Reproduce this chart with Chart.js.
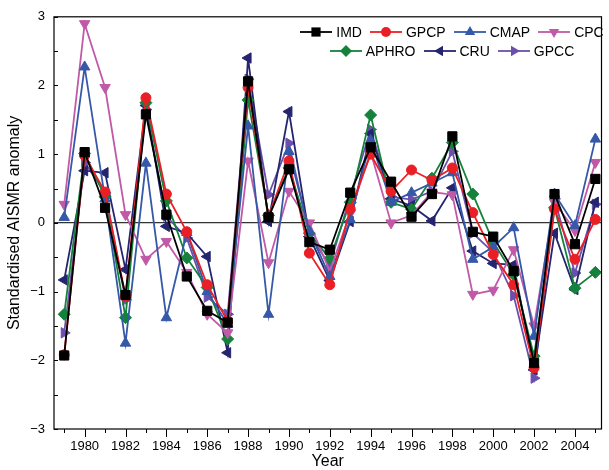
<!DOCTYPE html>
<html>
<head>
<meta charset="utf-8">
<script src="https://cdn.jsdelivr.net/npm/chart.js@4.4.1/dist/chart.umd.min.js"></script>
<style>
  html,body{margin:0;padding:0;background:#fff;}
  #wrap{position:relative;width:609px;height:470px;overflow:hidden;}
  #legend{position:absolute;left:277px;top:23px;width:350px;font-family:"Liberation Sans",Arial,sans-serif;font-size:14px;color:#000;}
  .row{display:flex;justify-content:center;height:18.5px;align-items:center;white-space:nowrap;}
  .item{display:flex;align-items:center;margin:0 4px;}
  .item svg{margin-right:4px;}
</style>
</head>
<body>
<div id="wrap">
<canvas id="c" width="609" height="470"></canvas>
<div id="legend"></div>
</div>
<script>
const years = [1979,1980,1981,1982,1983,1984,1985,1986,1987,1988,1989,1990,1991,1992,1993,1994,1995,1996,1997,1998,1999,2000,2001,2002,2003,2004,2005];
const IMD   = [-1.93,1.03,0.22,-1.05,1.58,0.12,-0.78,-1.28,-1.45,2.06,0.08,0.78,-0.28,-0.39,0.44,1.10,0.60,0.09,0.42,1.26,-0.13,-0.20,-0.70,-2.04,0.42,-0.31,0.64];
const GPCP  = [-1.92,0.98,0.45,-1.07,1.82,0.42,-0.13,-0.90,-1.43,1.97,0.10,0.90,-0.44,-0.90,0.20,1.00,0.46,0.77,0.62,0.80,0.15,-0.46,-0.90,-2.11,0.20,-0.53,0.05];
const CMAP  = [0.08,2.27,0.35,-1.75,0.87,-1.38,-0.14,-1.00,-1.48,1.41,-1.33,1.04,-0.12,-0.78,0.05,1.20,0.30,0.44,0.58,0.73,-0.53,-0.35,-0.07,-1.65,0.42,-0.04,1.22];
const CPC   = [0.27,2.90,1.97,0.12,-0.53,-0.27,-0.72,-1.33,-1.60,0.90,-0.58,0.46,0.00,-0.70,0.14,1.03,0.00,0.11,0.45,0.41,-1.04,-0.98,-0.39,-1.50,0.30,-0.11,0.88];
const APHRO = [-1.33,1.01,0.38,-1.38,1.75,0.32,-0.51,-0.94,-1.69,1.79,0.11,0.80,-0.15,-0.52,0.30,1.57,0.30,0.20,0.65,1.17,0.42,-0.28,-0.75,-1.94,0.22,-0.95,-0.72];
const CRU   = [-0.83,0.76,0.73,-0.68,1.71,-0.05,-0.15,-0.49,-1.89,2.40,0.02,1.62,-0.20,-0.84,0.02,1.30,0.35,0.25,0.03,0.51,-0.41,-0.59,-0.61,-2.14,-0.15,-0.97,0.30];
const GPCC  = [-1.60,0.88,0.44,-1.12,1.65,0.10,-0.22,-1.08,-1.33,2.09,0.41,1.16,-0.17,-0.62,0.39,1.36,0.38,0.34,0.46,1.04,-0.15,-0.43,-1.06,-2.26,0.35,-0.73,0.27];
const yTicks = [-3,-2.5,-2,-1.5,-1,-0.5,0,0.5,1,1.5,2,2.5,3];

const series = [
  {label:'IMD',   data:IMD,   color:'#000000', style:'rect',     rot:0,   r:6.5},
  {label:'GPCP',  data:GPCP,  color:'#ea1f26', style:'circle',   rot:0,   r:5},
  {label:'CMAP',  data:CMAP,  color:'#3558a8', style:'triangle', rot:0,   r:6},
  {label:'CPC',   data:CPC,   color:'#c05aa8', style:'triangle', rot:180, r:6},
  {label:'APHRO', data:APHRO, color:'#15823c', style:'rectRot',  rot:0,   r:6},
  {label:'CRU',   data:CRU,   color:'#25256f', style:'triangle', rot:270, r:6},
  {label:'GPCC',  data:GPCC,  color:'#6a50ac', style:'triangle', rot:90,  r:6}
];

const FONT = '"Liberation Sans", Arial, sans-serif';

const framePlugin = {
  id:'frame',
  afterDraw(chart){
    const {ctx, chartArea:a, scales:{x,y}} = chart;
    ctx.save();
    ctx.strokeStyle = '#000';
    ctx.lineWidth = 1.2;
    ctx.strokeRect(a.left, a.top, a.right - a.left, a.bottom - a.top);
    ctx.lineWidth = 1;
    ctx.beginPath();
    yTicks.forEach(v => {
      const py = Math.round(y.getPixelForValue(v)) + 0.5;
      ctx.moveTo(a.left, py); ctx.lineTo(a.left + 4, py);
    });
    years.forEach(v => {
      const px = Math.round(x.getPixelForValue(v)) + 0.5;
      const len = (v % 2 === 0) ? 8 : 4;
      ctx.moveTo(px, a.bottom); ctx.lineTo(px, a.bottom + len);
    });
    ctx.stroke();
    ctx.restore();
  }
};

new Chart(document.getElementById('c'), {
  type:'line',
  data:{
    datasets: series.map(s => ({
      label:s.label,
      data: years.map((yr,i) => ({x:yr, y:s.data[i]})),
      borderColor:s.color,
      backgroundColor:s.color,
      pointStyle:s.style,
      pointRotation:s.rot,
      pointRadius:s.r,
      pointBorderWidth:1,
      borderWidth:1.8,
      tension:0
    }))
  },
  options:{
    responsive:false,
    animation:false,
    events:[],
    layout:{padding:{left:0,right:4,top:16,bottom:0}},
    plugins:{legend:{display:false}, tooltip:{enabled:false}},
    scales:{
      x:{
        type:'linear', min:1978.5, max:2005.3,
        afterBuildTicks(s){ s.ticks = years.map(v => ({value:v})); },
        afterFit(s){ s.height = 41; },
        grid:{display:false, drawTicks:false},
        border:{display:false},
        ticks:{autoSkip:false, maxRotation:0, padding:10, color:'#000',
               font:{family:FONT, size:13},
               callback:v => (v % 2 === 0 ? String(v) : '')},
        title:{display:true, text:'Year', color:'#000', font:{family:FONT, size:16, lineHeight:1.05}, padding:{top:0,bottom:0}}
      },
      y:{
        min:-3, max:3,
        afterBuildTicks(s){ s.ticks = yTicks.map(v => ({value:v})); },
        afterFit(s){ s.width = 54; },
        grid:{drawTicks:false, lineWidth:1.2, color:c => (c.tick && c.tick.value === 0 ? '#333' : 'rgba(0,0,0,0)')},
        border:{display:false},
        ticks:{autoSkip:false, padding:9, color:'#000', font:{family:FONT, size:13},
               callback:v => (Number.isInteger(v) ? (v < 0 ? '\u2212' + Math.abs(v) : String(v)) : '')},
        title:{display:true, text:'Standardised AISMR anomaly', color:'#000', font:{family:FONT, size:16}, padding:{top:5,bottom:0}}
      }
    }
  },
  plugins:[framePlugin]
});

// HTML legend
function symbolSVG(s){
  const cx = 16, cy = 9, r = s.r;
  let shape = '';
  if (s.style === 'rect') {
    const h = r * Math.SQRT1_2;
    shape = `<rect x="${cx-h}" y="${cy-h}" width="${2*h}" height="${2*h}" fill="${s.color}"/>`;
  } else if (s.style === 'circle') {
    shape = `<circle cx="${cx}" cy="${cy}" r="${r}" fill="${s.color}"/>`;
  } else if (s.style === 'rectRot') {
    shape = `<polygon points="${cx},${cy-r} ${cx+r},${cy} ${cx},${cy+r} ${cx-r},${cy}" fill="${s.color}"/>`;
  } else {
    const pts = [-90, 30, 150].map(a => {
      const rad = (a + s.rot) * Math.PI / 180;
      return (cx + r * Math.cos(rad)).toFixed(2) + ',' + (cy + r * Math.sin(rad)).toFixed(2);
    }).join(' ');
    shape = `<polygon points="${pts}" fill="${s.color}"/>`;
  }
  return `<svg width="32" height="18" viewBox="0 0 32 18"><line x1="0" y1="${cy}" x2="32" y2="${cy}" stroke="${s.color}" stroke-width="1.8"/>${shape}</svg>`;
}
const legendRows = [series.slice(0,4), series.slice(4)];
document.getElementById('legend').innerHTML = legendRows.map(row =>
  '<div class="row">' + row.map(s => `<div class="item">${symbolSVG(s)}<span>${s.label}</span></div>`).join('') + '</div>'
).join('');
</script>
</body>
</html>
